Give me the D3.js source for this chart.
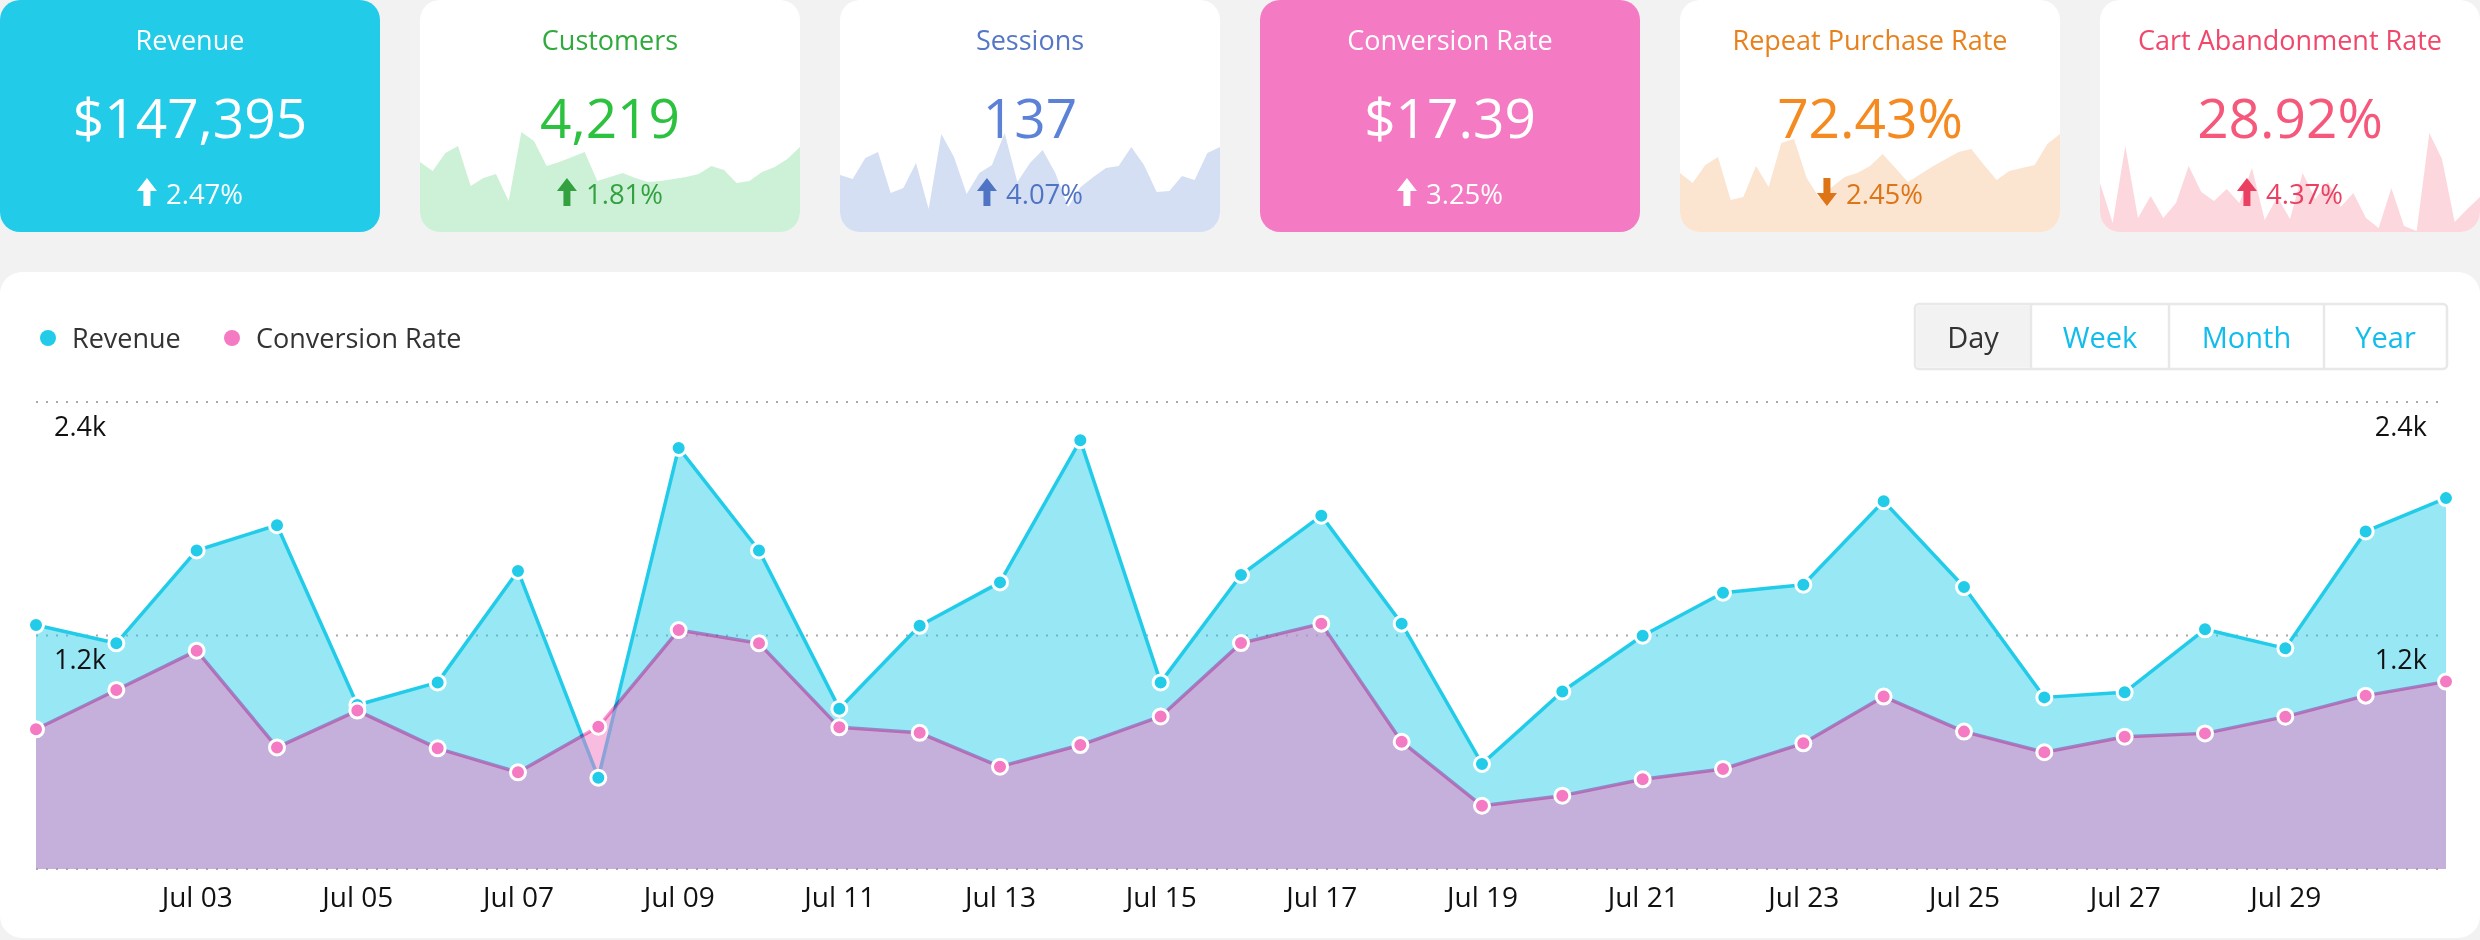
<!DOCTYPE html>
<html><head><meta charset="utf-8">
<script src="https://cdn.jsdelivr.net/npm/d3@7"></script>
<style>
html,body{margin:0;padding:0;background:#f2f2f2;overflow:hidden;}
svg{display:block;font-family:"Open Sans",sans-serif;}
</style></head><body>
<svg id="c" width="2480" height="940"></svg>
<script>
// ---------- DATA ----------
const days = ["Jul 01","Jul 02","Jul 03","Jul 04","Jul 05","Jul 06","Jul 07","Jul 08","Jul 09","Jul 10",
  "Jul 11","Jul 12","Jul 13","Jul 14","Jul 15","Jul 16","Jul 17","Jul 18","Jul 19","Jul 20",
  "Jul 21","Jul 22","Jul 23","Jul 24","Jul 25","Jul 26","Jul 27","Jul 28","Jul 29","Jul 30","Jul 31"];
const xTickLabels = ["Jul 03","Jul 05","Jul 07","Jul 09","Jul 11","Jul 13","Jul 15","Jul 17","Jul 19",
  "Jul 21","Jul 23","Jul 25","Jul 27","Jul 29"];
const yTickValues = [1200, 2400];
const revenue = [1254,1160,1637,1767,843,959,1532,469,2164,1637,824,1250,1473,2203,959,1511,1816,1261,540,912,
  1199,1420,1461,1890,1449,882,908,1232,1134,1735,1906];
const conversionRate = [718,920,1122,625,814,620,497,731,1228,1160,728,700,526,637,784,1161,1261,654,325,377,
  461,514,646,886,706,600,680,697,783,891,963];
const seriesNames = ["Revenue","Conversion Rate"];
const periodButtons = ["Day","Week","Month","Year"];

const cardTitles = ["Revenue","Customers","Sessions","Conversion Rate","Repeat Purchase Rate","Cart Abandonment Rate"];
const cardValues = ["$147,395","4,219","137","$17.39","72.43%","28.92%"];
const cardChanges = ["2.47%","1.81%","4.07%","3.25%","2.45%","4.37%"];
const cardDirections = ["up","up","up","up","down","up"];
const customersSpark = [70,61,79,86,46,54,58,31,100,91,66,70,75,80,51,55,59,54,50,51,53,55,58,66,62,49,51,60,65,73,85];
const sessionsSpark = [57,53,74,80,39,44,69,23,98,75,38,59,67,99,50,69,82,59,25,45,55,64,66,85,67,40,41,56,52,79,85];
const repeatSpark = [59,49,67,75,32,35,66,45,89,93,54,34,45,55,59,66,78,64,50,58,66,73,80,83,67,52,61,64,67,88,98];
const cartSpark = [49,9,86,14,36,14,29,66,40,31,43,29,64,12,35,13,59,33,50,25,39,14,4,44,6,1,99,73,10,23,35];
const cardSparks = [null, customersSpark, sessionsSpark, null, repeatSpark, cartSpark];

// ---------- STYLE ----------
const cardStyles = [
  {bg:"#22cce9", title:"#ffffff", value:"#ffffff", pct:"#ffffff", area:null},
  {bg:"#ffffff", title:"#2faa3c", value:"#2cc13f", pct:"#34a140", area:"#cdf1d7"},
  {bg:"#ffffff", title:"#5677c6", value:"#5c82d8", pct:"#5074c4", area:"#d4dff3"},
  {bg:"#f47ac3", title:"#ffffff", value:"#ffffff", pct:"#ffffff", area:null},
  {bg:"#ffffff", title:"#e8801b", value:"#f58a20", pct:"#dd7416", area:"#fbe4d0"},
  {bg:"#ffffff", title:"#f0476b", value:"#f6587b", pct:"#ea4162", area:"#fcd8de"}
];
const CYAN = "#22cce9", PINK = "#f47ac3";

const svg = d3.select("#c");
const defs = svg.append("defs");

// ---------- CARDS ----------
const cardW = 380, cardH = 232, cardGap = 40;
const sparkY = d3.scaleLinear().domain([0,100]).range([cardH, cardH-100]);
cardTitles.forEach((t,i)=>{
  const st = cardStyles[i];
  const g = svg.append("g").attr("transform",`translate(${i*(cardW+cardGap)},0)`);
  defs.append("clipPath").attr("id","cc"+i).append("rect")
    .attr("width",cardW).attr("height",cardH).attr("rx",20).attr("ry",20);
  g.append("rect").attr("width",cardW).attr("height",cardH).attr("rx",20).attr("ry",20).attr("fill",st.bg);
  const sp = cardSparks[i];
  if(sp){
    const sx = d3.scalePoint().domain(d3.range(sp.length)).range([0,cardW]);
    const area = d3.area().x((d,j)=>sx(j)).y0(cardH).y1(d=>sparkY(d));
    g.append("path").datum(sp).attr("d",area).attr("fill",st.area).attr("clip-path",`url(#cc${i})`);
  }
  g.append("text").attr("x",cardW/2).attr("y",50).attr("text-anchor","middle")
    .attr("font-size",27).attr("fill",st.title).text(t);
  g.append("text").attr("x",cardW/2).attr("y",138).attr("text-anchor","middle")
    .attr("font-size",55).attr("fill",st.value).text(cardValues[i]);
  const pg = g.append("g");
  const txt = pg.append("text").attr("x",29).attr("y",204).attr("font-size",27.5)
    .attr("fill",st.pct).text(cardChanges[i]);
  const up = "M10,0 L20,13 L13.5,13 L13.5,28 L6.5,28 L6.5,13 L0,13 Z";
  const down = "M6.5,0 L13.5,0 L13.5,15 L20,15 L10,28 L0,15 L6.5,15 Z";
  pg.append("path").attr("d", cardDirections[i]==="up"?up:down)
    .attr("transform","translate(0,178)").attr("fill",st.pct);
  const w = 29 + txt.node().getComputedTextLength();
  pg.attr("transform",`translate(${(cardW-w)/2},0)`);
});

// ---------- PANEL ----------
svg.append("rect").attr("x",0).attr("y",272).attr("width",2480).attr("height",666)
  .attr("rx",22).attr("ry",22).attr("fill","#ffffff");

// legend
const legendX = [48, 232];
seriesNames.forEach((n,i)=>{
  svg.append("circle").attr("cx",legendX[i]).attr("cy",338).attr("r",8).attr("fill",i===0?CYAN:PINK);
  svg.append("text").attr("x",legendX[i]+24).attr("y",348).attr("font-size",27).attr("fill","#333").text(n);
});

// buttons
const btnEdges = [1915, 2031, 2169, 2324, 2447];
const bg = svg.append("g");
bg.append("rect").attr("x",1915).attr("y",304).attr("width",2447-1915).attr("height",65)
  .attr("rx",4).attr("fill","#ffffff").attr("stroke","#e8e8e8").attr("stroke-width",2.5);
bg.append("rect").attr("x",1916.5).attr("y",305.5).attr("width",2031-1916.5).attr("height",62).attr("fill","#f2f2f2");
periodButtons.forEach((b,i)=>{
  if(i>0) bg.append("line").attr("x1",btnEdges[i]).attr("x2",btnEdges[i]).attr("y1",305).attr("y2",368)
    .attr("stroke","#e8e8e8").attr("stroke-width",2.5);
  bg.append("text").attr("x",(btnEdges[i]+btnEdges[i+1])/2).attr("y",348).attr("text-anchor","middle")
    .attr("font-size",29).attr("fill",i===0?"#333":"#12bdec").text(b);
});

// ---------- CHART ----------
const x = d3.scalePoint().domain(days).range([36, 2446]);
const y = d3.scaleLinear().domain([0, 2400]).range([869, 402]);

// grid
const grid = svg.append("g");
[0, ...yTickValues].forEach(v=>{
  grid.append("line").attr("x1",36).attr("x2",2446).attr("y1",y(v)).attr("y2",y(v))
    .attr("stroke","#a8a8a8").attr("stroke-width",2).attr("stroke-dasharray","2,8");
});

const areaGen = vals => d3.area().x((d,i)=>x(days[i])).y0(y(0)).y1(d=>y(d))(vals);
const lineGen = vals => d3.line().x((d,i)=>x(days[i])).y(d=>y(d))(vals);

svg.append("path").attr("d",areaGen(revenue)).attr("fill",CYAN).attr("fill-opacity",0.47);
svg.append("path").attr("d",lineGen(revenue)).attr("fill","none").attr("stroke",CYAN).attr("stroke-width",3.5)
  .attr("stroke-linejoin","round");
svg.append("path").attr("d",areaGen(conversionRate)).attr("fill",PINK).attr("fill-opacity",0.5);
svg.append("path").attr("d",lineGen(conversionRate)).attr("fill","none").attr("stroke",PINK).attr("stroke-width",3.5)
  .attr("stroke-linejoin","round").style("mix-blend-mode","multiply").attr("stroke-opacity",0.8);

// y labels (inside, both sides)
const yAxisL = d3.axisLeft(y).tickValues(yTickValues).tickSize(0).tickFormat(d3.format(".2s"));
const gl = svg.append("g").attr("transform","translate(54,0)").call(yAxisL);
gl.select(".domain").remove();
gl.selectAll("text").attr("text-anchor","start").attr("x",0).attr("dy",0)
  .attr("transform","translate(0,33)").attr("font-size",27).attr("fill","#111").attr("font-family","Open Sans");
const yAxisR = d3.axisRight(y).tickValues(yTickValues).tickSize(0).tickFormat(d3.format(".2s"));
const gr = svg.append("g").attr("transform","translate(2427,0)").call(yAxisR);
gr.select(".domain").remove();
gr.selectAll("text").attr("text-anchor","end").attr("x",0).attr("dy",0)
  .attr("transform","translate(0,33)").attr("font-size",27).attr("fill","#111").attr("font-family","Open Sans");

// x axis
const xAxis = d3.axisBottom(x).tickValues(xTickLabels).tickSize(0);
const gx = svg.append("g").attr("transform",`translate(0,${y(0)})`).call(xAxis);
gx.select(".domain").remove();
gx.selectAll("text").attr("dy",0).attr("y",38).attr("font-size",28).attr("fill","#111").attr("font-family","Open Sans");

// points
svg.append("g").selectAll("circle").data(revenue).join("circle")
  .attr("cx",(d,i)=>x(days[i])).attr("cy",d=>y(d)).attr("r",7.5)
  .attr("fill",CYAN).attr("stroke","#fff").attr("stroke-width",3);
svg.append("g").selectAll("circle").data(conversionRate).join("circle")
  .attr("cx",(d,i)=>x(days[i])).attr("cy",d=>y(d)).attr("r",7.5)
  .attr("fill",PINK).attr("stroke","#fff").attr("stroke-width",3);
</script>
</body></html>
